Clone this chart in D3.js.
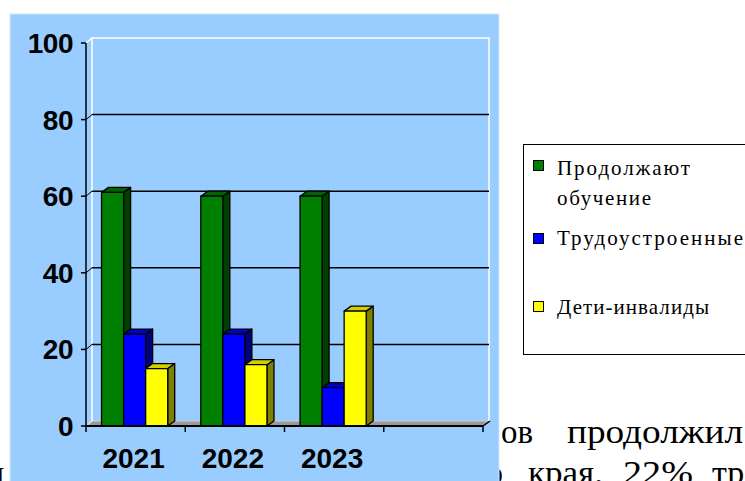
<!DOCTYPE html>
<html><head><meta charset="utf-8">
<script src="https://cdn.jsdelivr.net/npm/d3@7"></script>
<style>html,body{margin:0;padding:0;background:#fff;overflow:hidden}</style>
</head><body><svg id="c" width="745" height="481"></svg>
<script>
// ---- data ----
const categories = ["2021", "2022", "2023", ""];
const seriesNames = ["Продолжают обучение", "Трудоустроенные", "Дети-инвалиды"];
const prodolzhayutObuchenie = [61, 60, 60];
const trudoustroennye = [24, 24, 10];
const detiInvalidy = [15, 16, 30];
const yTicks = [0, 20, 40, 60, 80, 100];
const legendLines = [["Продолжают", "обучение"], ["Трудоустроенные"], ["Дети-инвалиды"]];
const seriesValues = [prodolzhayutObuchenie, trudoustroennye, detiInvalidy];

// ---- styles ----
const frontCol = ["#008000", "#0000FF", "#FFFF00"];
const topCol = ["#006400", "#0000C8", "#D0D000"];
const sideCol = ["#004000", "#000080", "#808000"];
const panelCol = "#99CCFF";

const svg = d3.select("#c");

// document text behind the chart
const doc = svg.append("g").attr("font-family", "'Liberation Serif','Times New Roman',serif")
  .attr("font-size", 34).attr("fill", "#000");
const docWords = [
  { t: "ов", x: 501, y: 443, w: 32 },
  { t: "продолжил", x: 567, y: 443, w: 176 },
  { t: "о", x: 486, y: 484, w: 0 },
  { t: "края.", x: 528, y: 484, w: 75 },
  { t: "22%", x: 623, y: 484, w: 70 },
  { t: "тр", x: 712, y: 484, w: 0 },
  { t: "н", x: -14, y: 484, w: 0 }
];
docWords.forEach(d => {
  const t = doc.append("text").attr("x", d.x).attr("y", d.y).text(d.t);
  if (d.w) t.attr("textLength", d.w).attr("lengthAdjust", "spacingAndGlyphs");
});

// chart panel
svg.append("rect").attr("x", 10).attr("y", 14).attr("width", 489).attr("height", 480)
  .attr("fill", panelCol).attr("stroke", "#d6e6f6").attr("stroke-width", 1);

const y = d3.scaleLinear().domain([0, 100]).range([426, 43]);
const x0 = d3.scaleBand().domain(categories).range([86, 483]);
const x1 = d3.scaleBand().domain(seriesNames).range([0, x0.bandwidth()]).paddingInner(0).paddingOuter(0.75);
const WX = 6, WY = 5;   // wall depth
const DX = 7, DY = 5;   // bar depth
const xL = x0.range()[0], xR = x0.range()[1];

// floor
svg.append("polygon")
  .attr("points", [[xL, y(0)], [xL + WX, y(0) - WY], [xR + WX + 1, y(0) - WY], [xR, y(0)]].map(p => p.join(",")).join(" "))
  .attr("fill", "#9a9a9a");
svg.append("line").attr("x1", xL + WX).attr("x2", xR + WX).attr("y1", y(0) - WY).attr("y2", y(0) - WY)
  .attr("stroke", "#d0d0d0").attr("stroke-width", 1);
svg.append("line").attr("x1", xL + 1).attr("y1", y(0) - 0.5).attr("x2", xL + WX).attr("y2", y(0) - WY)
  .attr("stroke", "#ffffff").attr("stroke-width", 1);

// wall edges (white)
const wall = svg.append("g").attr("stroke", "#ffffff").attr("stroke-width", 1.5).attr("fill", "none");
wall.append("polyline").attr("points",
  [[xL + WX, y(0) - WY], [xL + WX, y(100) - WY], [xR + WX, y(100) - WY], [xR + WX, y(0) - WY]].map(p => p.join(",")).join(" "));
wall.append("line").attr("x1", xL).attr("y1", y(100)).attr("x2", xL + WX).attr("y2", y(100) - WY);

// gridlines on the back wall
const grid = svg.append("g").attr("stroke", "#000").attr("stroke-width", 1.5);
yTicks.filter(v => v > 0 && v < 100).forEach(v => {
  grid.append("line").attr("x1", xL + WX).attr("x2", xR + WX).attr("y1", y(v) - WY).attr("y2", y(v) - WY);
  grid.append("line").attr("x1", xL).attr("x2", xL + WX).attr("y1", y(v)).attr("y2", y(v) - WY).attr("stroke-width", 1);
});

// bars
const bars = svg.append("g").attr("stroke", "#000").attr("stroke-width", 1.3).attr("stroke-linejoin", "round");
categories.forEach((c, ci) => {
  seriesNames.forEach((s, si) => {
    const vals = seriesValues[si];
    if (ci >= vals.length) return;
    const v = vals[ci];
    const x = x0(c) + x1(s) - 1, w = x1.bandwidth(), yt = y(v), yb = y(0);
    const pts = a => a.map(p => p.join(",")).join(" ");
    bars.append("polygon").attr("fill", sideCol[si])
      .attr("points", pts([[x + w, yt], [x + w + DX, yt - DY], [x + w + DX, yb - DY], [x + w, yb]]));
    bars.append("polygon").attr("fill", topCol[si])
      .attr("points", pts([[x, yt], [x + DX, yt - DY], [x + w + DX, yt - DY], [x + w, yt]]));
    bars.append("rect").attr("fill", frontCol[si])
      .attr("x", x).attr("y", yt).attr("width", w).attr("height", yb - yt);
  });
});

// axes
const ax = svg.append("g").attr("stroke", "#000");
ax.append("line").attr("x1", xL).attr("x2", xL).attr("y1", y(100)).attr("y2", y(0)).attr("stroke-width", 1.5);
yTicks.forEach(v => ax.append("line").attr("x1", xL - 5).attr("x2", xL).attr("y1", y(v)).attr("y2", y(v)).attr("stroke-width", 1.5));
ax.append("line").attr("x1", xL).attr("x2", xR).attr("y1", y(0)).attr("y2", y(0)).attr("stroke-width", 2);
ax.append("line").attr("x1", xR).attr("x2", xR + WX + 1).attr("y1", y(0)).attr("y2", y(0) - WY).attr("stroke-width", 1.5);
categories.concat(["end"]).forEach(c => {
  const xx = c === "end" ? xR : x0(c);
  ax.append("line").attr("x1", xx).attr("x2", xx).attr("y1", y(0)).attr("y2", y(0) + 6).attr("stroke-width", 1.5);
});

// tick labels
const lab = svg.append("g").attr("font-family", "'Liberation Sans',Arial,sans-serif")
  .attr("font-weight", "bold").attr("font-size", 28).attr("fill", "#000");
yTicks.forEach(v => lab.append("text").attr("x", 73).attr("y", y(v)).attr("dy", "0.36em")
  .attr("text-anchor", "end").attr("letter-spacing", -0.5).text(v));
categories.forEach(c => lab.append("text").attr("x", x0(c) + x0.bandwidth() / 2 - 2).attr("y", 468)
  .attr("text-anchor", "middle").text(c));

// legend
const lg = svg.append("g");
lg.append("rect").attr("x", 523.5).attr("y", 144.5).attr("width", 240).attr("height", 210)
  .attr("fill", "#fff").attr("stroke", "#000").attr("stroke-width", 1);
const sqY = [160, 233, 301];
const txtY = [[175, 205], [245], [314]];
const txtW = [[133, 94], [186], [152]];
legendLines.forEach((lines, i) => {
  lg.append("rect").attr("x", 533.5).attr("y", sqY[i] + 0.5).attr("width", 10).attr("height", 10)
    .attr("fill", frontCol[i]).attr("stroke", "#000").attr("stroke-width", 1);
  lines.forEach((t, j) => lg.append("text").attr("x", 557).attr("y", txtY[i][j])
    .attr("font-family", "'Liberation Serif','Times New Roman',serif").attr("font-size", 21)
    .attr("textLength", txtW[i][j]).attr("lengthAdjust", "spacing")
    .attr("fill", "#000").text(t));
});
</script></body></html>
